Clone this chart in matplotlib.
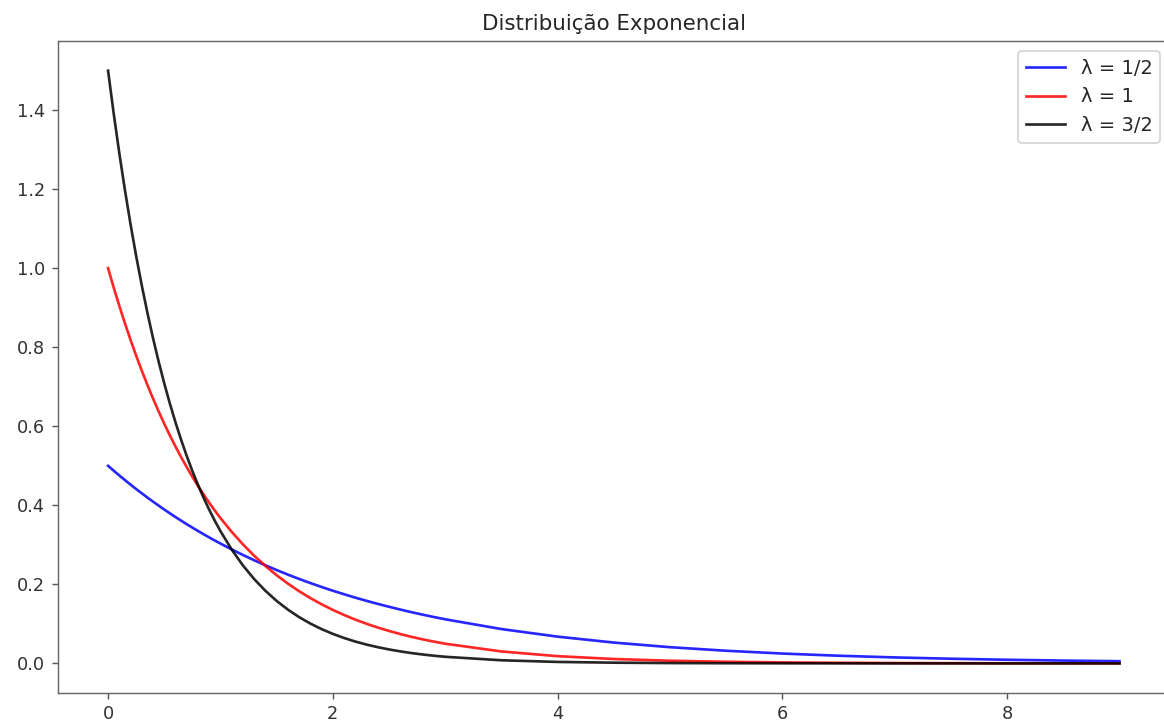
import matplotlib
matplotlib.use("Agg")
import matplotlib.pyplot as plt

# x values (denser near 0 where the curves bend)
x = [0.0, 0.05, 0.1, 0.15, 0.2, 0.25, 0.3, 0.35, 0.4, 0.45, 0.5, 0.55, 0.6, 0.65,
     0.7, 0.75, 0.8, 0.85, 0.9, 0.95,
     1.0, 1.1, 1.2, 1.3, 1.4, 1.5, 1.6, 1.7, 1.8, 1.9,
     2.0, 2.1, 2.2, 2.3, 2.4, 2.5, 2.6, 2.7, 2.8, 2.9,
     3.0, 3.5, 4.0, 4.5, 5.0, 5.5, 6.0, 6.5, 7.0, 7.5, 8.0, 8.5, 9.0]

# lambda = 1/2
y_half = [0.5000, 0.4877, 0.4756, 0.4639, 0.4524, 0.4412, 0.4304, 0.4197, 0.4094, 0.3993,
          0.3894, 0.3798, 0.3704, 0.3613, 0.3523, 0.3436, 0.3352, 0.3269, 0.3188, 0.3109,
          0.3033, 0.2885, 0.2744, 0.2610, 0.2483, 0.2362, 0.2247, 0.2137, 0.2033, 0.1934,
          0.1839, 0.1750, 0.1664, 0.1583, 0.1506, 0.1433, 0.1363, 0.1296, 0.1233, 0.1173,
          0.1116, 0.0869, 0.0677, 0.0527, 0.0410, 0.0320, 0.0249, 0.0194, 0.0151, 0.0118,
          0.0092, 0.0071, 0.0056]

# lambda = 1
y_one = [1.0000, 0.9512, 0.9048, 0.8607, 0.8187, 0.7788, 0.7408, 0.7047, 0.6703, 0.6376,
         0.6065, 0.5769, 0.5488, 0.5220, 0.4966, 0.4724, 0.4493, 0.4274, 0.4066, 0.3867,
         0.3679, 0.3329, 0.3012, 0.2725, 0.2466, 0.2231, 0.2019, 0.1827, 0.1653, 0.1496,
         0.1353, 0.1225, 0.1108, 0.1003, 0.0907, 0.0821, 0.0743, 0.0672, 0.0608, 0.0550,
         0.0498, 0.0302, 0.0183, 0.0111, 0.0067, 0.0041, 0.0025, 0.0015, 0.0009, 0.0006,
         0.0003, 0.0002, 0.0001]

# lambda = 3/2
y_three_half = [1.5000, 1.3916, 1.2911, 1.1978, 1.1112, 1.0309, 0.9564, 0.8873, 0.8232, 0.7637,
                0.7086, 0.6574, 0.6099, 0.5658, 0.5249, 0.4870, 0.4518, 0.4191, 0.3889, 0.3608,
                0.3347, 0.2881, 0.2479, 0.2134, 0.1837, 0.1581, 0.1361, 0.1171, 0.1008, 0.0868,
                0.0747, 0.0643, 0.0553, 0.0476, 0.0410, 0.0353, 0.0304, 0.0261, 0.0225, 0.0194,
                0.0167, 0.0079, 0.0037, 0.0018, 0.0008, 0.0004, 0.0002, 0.0001, 0.0000, 0.0000,
                0.0000, 0.0000, 0.0000]

labels = ["λ = 1/2", "λ = 1", "λ = 3/2"]
line_colors = ["#0000ff", "#ff0000", "#000000"]

plt.rcParams['text.color'] = '#262626'
plt.rcParams['xtick.color'] = '#555555'
plt.rcParams['ytick.color'] = '#555555'
plt.rcParams['xtick.labelcolor'] = '#333333'
plt.rcParams['ytick.labelcolor'] = '#333333'

fig = plt.figure(figsize=(1164 / 128, 725 / 128), dpi=128)
# axes runs slightly past the right edge of the picture, like the cropped original
ax = fig.add_axes([0.0494, 0.0441, 0.9558, 0.8993])

for ys, lab, col in zip([y_half, y_one, y_three_half], labels, line_colors):
    ax.plot(x, ys, color=col, lw=1.5, alpha=0.85, label=lab)

ax.set_xlim(-0.45, 9.45)
ax.set_ylim(-0.075, 1.575)
ax.set_xticks([0, 2, 4, 6, 8])
ax.set_yticks([0.0, 0.2, 0.4, 0.6, 0.8, 1.0, 1.2, 1.4])
for s in ax.spines.values():
    s.set_color('#666666')
ax.spines['right'].set_visible(False)

ax.set_title("Distribuição Exponencial", fontsize=12)

ax.legend(loc="upper right", fontsize=11)

fig.savefig("out.png", dpi=128)
